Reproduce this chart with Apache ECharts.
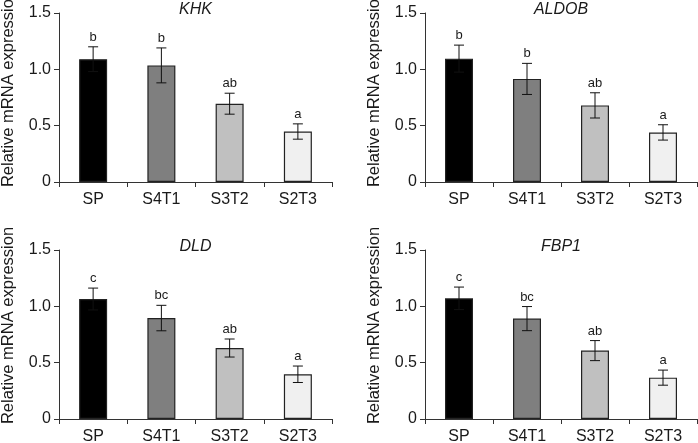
<!DOCTYPE html>
<html>
<head>
<meta charset="utf-8">
<script src="https://cdn.jsdelivr.net/npm/echarts@6/dist/echarts.min.js"></script>
<style>html,body{margin:0;padding:0;background:#fff;}#c{width:698px;height:443px;}</style>
</head>
<body>
<div id="c"></div>
<script>
const categories = ['SP', 'S4T1', 'S3T2', 'S2T3'];
const genes = ['KHK', 'ALDOB', 'DLD', 'FBP1'];

const khkMean = [1.09, 1.035, 0.695, 0.448];
const khkErr = [0.11, 0.155, 0.093, 0.068];
const khkLetters = ['b', 'b', 'ab', 'a'];

const aldobMean = [1.095, 0.915, 0.68, 0.44];
const aldobErr = [0.12, 0.138, 0.112, 0.068];
const aldobLetters = ['b', 'b', 'ab', 'a'];

const dldMean = [1.065, 0.896, 0.63, 0.397];
const dldErr = [0.097, 0.113, 0.08, 0.073];
const dldLetters = ['c', 'bc', 'ab', 'a'];

const fbp1Mean = [1.071, 0.891, 0.607, 0.367];
const fbp1Err = [0.10, 0.107, 0.089, 0.067];
const fbp1Letters = ['c', 'bc', 'ab', 'a'];

const yTicks = [0, 0.5, 1.0, 1.5];
const yLabel = 'Relative mRNA expression';

const means = [khkMean, aldobMean, dldMean, fbp1Mean];
const errs = [khkErr, aldobErr, dldErr, fbp1Err];
const letters = [khkLetters, aldobLetters, dldLetters, fbp1Letters];

const barColors = ['#000000', '#7f7f7f', '#c0c0c0', '#f0f0f0'];
const FONT = '"Liberation Sans", Arial, sans-serif';
const TXT = '#1a1a1a';
const AX = '#333333';

const gridPos = [
  { left: 59, top: 13, width: 273, height: 169 },
  { left: 425, top: 13, width: 272, height: 169 },
  { left: 59, top: 250, width: 273, height: 169 },
  { left: 425, top: 250, width: 272, height: 169 }
];

const option = {
  animation: false,
  backgroundColor: '#fff',
  title: gridPos.map((g, i) => ({
    text: genes[i],
    left: g.left + g.width / 2,
    top: g.top - 11,
    padding: 0,
    textAlign: 'center',
    textStyle: { fontFamily: FONT, fontSize: 16, fontStyle: 'italic', fontWeight: 'normal', color: TXT }
  })),
  grid: gridPos.map(g => Object.assign({ containLabel: false, outerBoundsMode: 'none' }, g)),
  xAxis: gridPos.map((g, i) => ({
    type: 'category',
    gridIndex: i,
    data: categories,
    boundaryGap: true,
    axisLine: { lineStyle: { color: AX, width: 1 } },
    axisTick: { show: true, length: 5, alignWithLabel: false, lineStyle: { color: AX } },
    axisLabel: { fontFamily: FONT, fontSize: 16, color: TXT, margin: 10 },
    splitLine: { show: false }
  })),
  yAxis: gridPos.map((g, i) => ({
    type: 'value',
    gridIndex: i,
    min: yTicks[0],
    max: yTicks[yTicks.length - 1],
    interval: 0.5,
    name: yLabel,
    nameLocation: 'middle',
    nameGap: 42,
    nameTextStyle: { fontFamily: FONT, fontSize: 16.5, color: TXT, padding: [0, 0, 0, 18] },
    axisLine: { show: true, lineStyle: { color: AX, width: 1 } },
    axisTick: { show: true, length: 5, lineStyle: { color: AX } },
    axisLabel: {
      fontFamily: FONT, fontSize: 16, color: TXT, margin: 8,
      formatter: v => (v === 0 ? '0' : v.toFixed(1))
    },
    splitLine: { show: false }
  })),
  series: []
};

for (let i = 0; i < 4; i++) {
  option.series.push({
    type: 'bar',
    xAxisIndex: i,
    yAxisIndex: i,
    barWidth: 28,
    data: means[i].map((v, k) => ({
      value: v,
      itemStyle: { color: barColors[k], borderColor: '#222222', borderWidth: 1.2 }
    })),
    z: 2
  });
  option.series.push({
    type: 'custom',
    xAxisIndex: i,
    yAxisIndex: i,
    z: 5,
    data: means[i].map((v, k) => [k, v, errs[i][k], letters[i][k]]),
    renderItem: function (params, api) {
      const x = api.value(0);
      const m = api.value(1);
      const e = api.value(2);
      const lt = api.value(3);
      const top = api.coord([x, m + e]);
      const bot = api.coord([x, m - e]);
      const cap = 5;
      const st = { stroke: '#111', lineWidth: 1 };
      return {
        type: 'group',
        children: [
          { type: 'line', shape: { x1: top[0], y1: top[1], x2: bot[0], y2: bot[1] }, style: st },
          { type: 'line', shape: { x1: top[0] - cap, y1: top[1], x2: top[0] + cap, y2: top[1] }, style: st },
          { type: 'line', shape: { x1: bot[0] - cap, y1: bot[1], x2: bot[0] + cap, y2: bot[1] }, style: st },
          {
            type: 'text',
            style: {
              text: lt, x: top[0], y: top[1] - 3,
              textAlign: 'center', textVerticalAlign: 'bottom',
              font: '13px ' + FONT, fill: TXT
            }
          }
        ]
      };
    }
  });
}

const chart = echarts.init(document.getElementById('c'), null, { renderer: 'canvas' });
chart.setOption(option);
</script>
</body>
</html>
